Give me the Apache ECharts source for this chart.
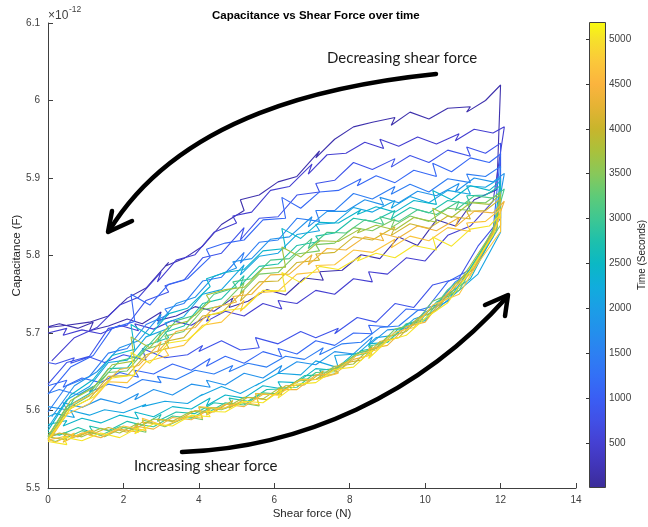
<!DOCTYPE html>
<html><head><meta charset="utf-8">
<script src="https://cdn.jsdelivr.net/npm/echarts@6/dist/echarts.min.js"></script>
<style>html,body{margin:0;padding:0;background:#fff}#c{width:648px;height:527px}</style>
</head><body><div id="c"></div>
<script>
// Shear force samples (N) for increasing / decreasing branches
const incA = [0,0.3,0.8,1.2,1.1,1.6,2.1,2.5,3.0,2.9,3.4,3.9,4.4,4.9,4.8,5.3,5.8,6.3,6.8,7.3,7.2,7.8,8.3,8.8,9.3,9.8,10.3,10.8,11.3,11.9];
const incB = [0,0.5,0.4,0.9,1.4,1.9,2.4,2.3,2.8,3.3,3.8,4.3,4.2,4.7,5.2,5.7,6.2,6.1,6.6,7.1,7.6,8.1,8.6,8.5,9.0,9.5,10.0,10.6,11.2,11.8];
const incC = [0,0.2,0.7,0.6,1.1,1.5,2.0,2.6,2.5,3.1,3.7,4.1,4.0,4.6,5.1,5.6,5.5,6.1,6.7,7.1,7.7,7.6,8.2,8.7,9.2,9.7,10.2,10.9,11.4,12.0];
const decA = [12.0,11.6,11.1,11.2,10.6,10.1,9.6,9.1,9.2,8.6,8.1,7.6,7.1,7.2,6.6,6.1,5.6,5.1,5.2,4.6,4.1,3.6,3.1,3.2,2.6,2.1,1.6,1.1,0.5,0.0];
const decB = [12.1,11.8,11.3,10.8,10.9,10.3,9.8,9.3,8.8,8.9,8.4,7.9,7.4,6.9,7.0,6.4,5.9,5.4,4.9,5.0,4.4,3.9,3.4,2.9,3.0,2.4,1.9,1.3,0.7,0.1];
const decC = [12.0,11.7,11.2,10.7,10.2,10.3,9.7,9.2,8.7,8.2,8.3,7.7,7.2,6.7,6.2,6.3,5.7,5.2,4.7,4.2,4.3,3.7,3.2,2.7,2.2,2.3,1.7,1.2,0.6,0.0];

// Mid time (s) of each loading cycle
const loopTimes = [162,486,811,1135,1460,1784,2108,2433,2757,3082,3406,3730,4055,4379,4703,5028];

// Capacitance (x1e-12 F): L = increasing force, U = decreasing force
const k0L = [5.708,5.712,5.706,5.714,5.703,5.709,5.718,5.712,5.727,5.716,5.722,5.734,5.728,5.745,5.733,5.741,5.756,5.749,5.771,5.768,5.779,5.781,5.801,5.796,5.824,5.813,5.846,5.838,5.872,5.885];
const k0U = [6.020,6.000,5.985,5.992,5.990,5.976,5.985,5.968,5.978,5.972,5.966,5.950,5.926,5.935,5.902,5.895,5.878,5.872,5.858,5.840,5.812,5.796,5.786,5.791,5.758,5.745,5.722,5.714,5.710,5.707];
const k1L = [5.700,5.706,5.697,5.704,5.699,5.710,5.703,5.712,5.705,5.716,5.710,5.724,5.715,5.728,5.722,5.738,5.731,5.742,5.738,5.755,5.750,5.770,5.766,5.779,5.776,5.797,5.793,5.826,5.838,5.870];
const k1U = [5.966,5.958,5.963,5.948,5.957,5.944,5.953,5.941,5.950,5.938,5.946,5.932,5.930,5.905,5.918,5.889,5.884,5.856,5.851,5.842,5.830,5.801,5.794,5.766,5.779,5.746,5.736,5.707,5.694,5.664];
const k2L = [5.662,5.660,5.668,5.661,5.669,5.662,5.672,5.665,5.680,5.668,5.672,5.684,5.676,5.690,5.678,5.681,5.694,5.686,5.702,5.694,5.706,5.699,5.720,5.714,5.738,5.733,5.762,5.771,5.812,5.848];
const k2U = [5.945,5.932,5.940,5.928,5.936,5.920,5.929,5.914,5.925,5.911,5.920,5.897,5.893,5.882,5.878,5.850,5.848,5.820,5.836,5.803,5.797,5.768,5.761,5.753,5.742,5.710,5.706,5.670,5.662,5.634];
const k3L = [5.632,5.639,5.630,5.642,5.636,5.649,5.643,5.652,5.647,5.660,5.652,5.667,5.657,5.670,5.661,5.676,5.669,5.680,5.673,5.690,5.684,5.700,5.699,5.710,5.708,5.731,5.729,5.766,5.782,5.832];
const k3U = [5.931,5.920,5.926,5.908,5.919,5.902,5.910,5.894,5.903,5.890,5.899,5.884,5.882,5.861,5.875,5.848,5.846,5.820,5.816,5.808,5.798,5.770,5.763,5.736,5.750,5.715,5.706,5.671,5.656,5.621];
const k4L = [5.622,5.627,5.620,5.631,5.624,5.634,5.629,5.640,5.636,5.644,5.640,5.652,5.647,5.658,5.650,5.661,5.656,5.670,5.666,5.681,5.672,5.686,5.688,5.707,5.709,5.729,5.736,5.766,5.783,5.832];
const k4U = [5.915,5.902,5.905,5.894,5.899,5.882,5.892,5.879,5.889,5.873,5.880,5.858,5.858,5.844,5.848,5.820,5.817,5.790,5.804,5.772,5.767,5.738,5.731,5.724,5.711,5.680,5.674,5.644,5.632,5.598];
const k5L = [5.605,5.601,5.610,5.604,5.615,5.609,5.622,5.614,5.627,5.620,5.634,5.630,5.639,5.633,5.648,5.642,5.658,5.648,5.663,5.659,5.676,5.673,5.695,5.684,5.704,5.706,5.727,5.741,5.783,5.824];
const k5U = [5.906,5.895,5.900,5.882,5.893,5.877,5.883,5.868,5.875,5.865,5.872,5.857,5.857,5.837,5.850,5.824,5.821,5.796,5.792,5.784,5.773,5.746,5.738,5.711,5.724,5.690,5.681,5.650,5.632,5.592];
const k6L = [5.592,5.596,5.591,5.600,5.594,5.601,5.597,5.608,5.605,5.612,5.609,5.621,5.618,5.631,5.622,5.635,5.632,5.648,5.646,5.664,5.655,5.671,5.673,5.694,5.697,5.718,5.726,5.755,5.776,5.830];
const k6U = [5.900,5.888,5.890,5.879,5.884,5.868,5.876,5.861,5.871,5.856,5.862,5.842,5.840,5.832,5.827,5.803,5.799,5.775,5.788,5.756,5.750,5.721,5.713,5.706,5.695,5.665,5.662,5.631,5.614,5.578];
const k7L = [5.582,5.587,5.580,5.590,5.584,5.594,5.589,5.598,5.592,5.605,5.602,5.616,5.606,5.620,5.616,5.632,5.628,5.637,5.636,5.654,5.652,5.673,5.678,5.686,5.688,5.711,5.716,5.750,5.770,5.826];
const k7U = [5.896,5.884,5.890,5.872,5.884,5.866,5.871,5.856,5.863,5.853,5.859,5.842,5.843,5.822,5.835,5.809,5.806,5.782,5.778,5.770,5.760,5.732,5.725,5.697,5.711,5.679,5.671,5.640,5.620,5.574];
const k8L = [5.572,5.568,5.578,5.571,5.580,5.574,5.586,5.581,5.595,5.586,5.598,5.596,5.610,5.607,5.616,5.612,5.627,5.628,5.645,5.646,5.652,5.655,5.677,5.682,5.706,5.712,5.740,5.752,5.792,5.836];
const k8U = [5.890,5.878,5.877,5.866,5.871,5.855,5.862,5.847,5.858,5.844,5.848,5.829,5.825,5.818,5.813,5.789,5.786,5.761,5.774,5.744,5.738,5.709,5.701,5.694,5.684,5.655,5.654,5.622,5.605,5.566];
const k9L = [5.566,5.572,5.563,5.574,5.568,5.579,5.575,5.583,5.579,5.593,5.590,5.604,5.596,5.610,5.607,5.623,5.621,5.629,5.630,5.649,5.650,5.670,5.676,5.683,5.688,5.712,5.718,5.756,5.780,5.834];
const k9U = [5.886,5.874,5.877,5.858,5.870,5.853,5.859,5.844,5.850,5.840,5.846,5.829,5.830,5.809,5.822,5.796,5.794,5.770,5.766,5.759,5.750,5.723,5.716,5.688,5.702,5.670,5.664,5.634,5.616,5.568];
const k10L = [5.563,5.560,5.570,5.564,5.573,5.566,5.578,5.572,5.588,5.579,5.592,5.588,5.604,5.601,5.610,5.606,5.622,5.621,5.641,5.640,5.649,5.652,5.674,5.680,5.705,5.711,5.741,5.755,5.797,5.839];
const k10U = [5.882,5.868,5.869,5.858,5.861,5.844,5.851,5.836,5.847,5.832,5.836,5.816,5.814,5.806,5.802,5.778,5.776,5.751,5.765,5.735,5.730,5.702,5.696,5.688,5.679,5.651,5.649,5.619,5.602,5.563];
const k11L = [5.566,5.562,5.571,5.566,5.577,5.571,5.584,5.576,5.589,5.586,5.599,5.597,5.604,5.603,5.617,5.615,5.631,5.622,5.638,5.640,5.657,5.660,5.683,5.672,5.695,5.702,5.725,5.745,5.787,5.832];
const k11U = [5.879,5.866,5.868,5.849,5.861,5.843,5.849,5.833,5.839,5.829,5.835,5.818,5.819,5.798,5.811,5.785,5.783,5.759,5.756,5.749,5.741,5.715,5.709,5.681,5.695,5.664,5.659,5.629,5.613,5.567];
const k12L = [5.565,5.571,5.566,5.575,5.568,5.578,5.572,5.585,5.582,5.589,5.586,5.600,5.598,5.613,5.603,5.617,5.614,5.632,5.633,5.651,5.641,5.661,5.665,5.689,5.694,5.719,5.729,5.763,5.784,5.836];
const k12U = [5.873,5.858,5.857,5.847,5.851,5.835,5.841,5.826,5.837,5.820,5.824,5.804,5.802,5.794,5.791,5.767,5.766,5.741,5.755,5.726,5.722,5.694,5.689,5.681,5.672,5.645,5.644,5.615,5.600,5.563];
const k13L = [5.562,5.567,5.559,5.571,5.565,5.576,5.572,5.580,5.576,5.591,5.588,5.602,5.594,5.608,5.605,5.621,5.620,5.627,5.627,5.646,5.647,5.666,5.672,5.679,5.684,5.708,5.714,5.752,5.776,5.830];
const k13U = [5.870,5.855,5.857,5.837,5.849,5.832,5.838,5.823,5.829,5.819,5.824,5.807,5.809,5.788,5.801,5.776,5.775,5.750,5.747,5.740,5.733,5.707,5.702,5.675,5.689,5.658,5.653,5.625,5.610,5.566];
const k14L = [5.563,5.559,5.571,5.565,5.574,5.568,5.580,5.574,5.590,5.580,5.593,5.590,5.605,5.602,5.611,5.607,5.622,5.620,5.640,5.640,5.648,5.650,5.672,5.678,5.701,5.707,5.736,5.750,5.790,5.831];
const k14U = [5.860,5.844,5.842,5.831,5.836,5.819,5.825,5.810,5.821,5.804,5.807,5.788,5.787,5.779,5.776,5.754,5.752,5.728,5.742,5.714,5.710,5.684,5.679,5.671,5.663,5.636,5.637,5.609,5.595,5.561];
const k15L = [5.560,5.556,5.566,5.561,5.571,5.565,5.578,5.570,5.583,5.580,5.594,5.592,5.599,5.598,5.612,5.610,5.627,5.616,5.634,5.636,5.653,5.656,5.678,5.667,5.690,5.697,5.719,5.739,5.781,5.826];
const k15U = [5.853,5.838,5.834,5.812,5.824,5.807,5.813,5.797,5.803,5.793,5.799,5.782,5.786,5.765,5.778,5.754,5.755,5.732,5.729,5.722,5.716,5.691,5.687,5.661,5.675,5.646,5.642,5.617,5.603,5.562];

const loops = [[k0L,k0U],[k1L,k1U],[k2L,k2U],[k3L,k3U],[k4L,k4U],[k5L,k5U],[k6L,k6U],[k7L,k7U],
               [k8L,k8U],[k9L,k9U],[k10L,k10U],[k11L,k11U],[k12L,k12U],[k13L,k13U],[k14L,k14U],[k15L,k15U]];
const incSets = [incA, incB, incC, incB];
const decSets = [decA, decB, decA, decC];

// Colour map (parula-like), keyed by time in seconds
const T_MAX = 5190;
const cmap = [[0,'#3b2c98'],[250,'#4135b8'],[500,'#4540d2'],[750,'#4150e6'],[1000,'#3a5ef4'],[1250,'#3370f6'],
  [1500,'#2d80f2'],[1750,'#2390ec'],[2000,'#1b9ee6'],[2250,'#10addc'],[2500,'#0bb8c4'],[2750,'#1ec0ac'],
  [3000,'#3ec792'],[3250,'#5ecb78'],[3500,'#88c85a'],[3750,'#a9c13c'],[4000,'#c8b52c'],[4250,'#e5b334'],
  [4500,'#fbb43e'],[4750,'#fbc83a'],[5000,'#f6e12a'],[5190,'#f9fb0e']];
function hex2rgb(h){return [1,3,5].map(i=>parseInt(h.substr(i,2),16));}
function colorAt(t){
  for(let i=0;i<cmap.length-1;i++){
    const [t0,c0]=cmap[i],[t1,c1]=cmap[i+1];
    if(t<=t1){const f=(t-t0)/(t1-t0),a=hex2rgb(c0),b=hex2rgb(c1);
      return 'rgb('+a.map((v,j)=>Math.round(v+(b[j]-v)*f)).join(',')+')';}
  }
  return cmap[cmap.length-1][1];
}

loops.forEach((lu,k)=>{ if(lu[0].length!==30||lu[1].length!==30) throw new Error('bad length loop '+k); });

const FONT = 'Liberation Sans';
const series = loops.map((lu,k)=>{
  const xi = incSets[k%4], xd = decSets[k%4];
  const data = xi.map((x,i)=>[x,lu[0][i]]).concat(xd.map((x,i)=>[x,lu[1][i]]));
  const c = colorAt(loopTimes[k]);
  return {type:'line', xAxisIndex:0, yAxisIndex:0, data, symbol:'none', showSymbol:false, silent:true,
    lineStyle:{width:1.1, color:c}, itemStyle:{color:c}, animation:false};
});

const chart = echarts.init(document.getElementById('c'), null, {renderer:'canvas'});
chart.setOption({
  animation:false,
  backgroundColor:'#fff',
  textStyle:{fontFamily:FONT},
  title:{text:'Capacitance vs Shear Force over time', left:207, top:5,
    textStyle:{fontFamily:FONT, fontSize:11.5, fontWeight:'bold', color:'#000'}},
  grid:[{left:48, top:23, width:528, height:465, containLabel:false, outerBoundsMode:'none'},
        {left:589, top:22, width:16, height:466, containLabel:false, outerBoundsMode:'none'}],
  xAxis:[
    {gridIndex:0, type:'value', min:0, max:14, interval:2,
     name:'Shear force (N)', nameLocation:'middle', nameGap:20, nameMoveOverlap:false,
     nameTextStyle:{fontFamily:FONT, fontSize:11.5, color:'#262626'},
     axisLine:{lineStyle:{color:'#404040', width:1}},
     axisTick:{inside:true, length:5, lineStyle:{color:'#404040'}},
     axisLabel:{fontFamily:FONT, fontSize:10, color:'#404040', margin:7},
     splitLine:{show:false}},
    {gridIndex:1, type:'value', min:0, max:1, show:false}
  ],
  yAxis:[
    {gridIndex:0, type:'value', min:5.5, max:6.1, interval:0.1,
     name:'Capacitance (F)', nameLocation:'middle', nameGap:25, nameMoveOverlap:false,
     nameTextStyle:{fontFamily:FONT, fontSize:11.5, color:'#262626'},
     axisLine:{show:true, lineStyle:{color:'#404040', width:1}},
     axisTick:{show:true, inside:true, length:5, lineStyle:{color:'#404040'}},
     axisLabel:{fontFamily:FONT, fontSize:10, color:'#404040', margin:8},
     splitLine:{show:false}},
    {gridIndex:1, type:'value', min:0, max:T_MAX, interval:500, position:'right', z:10,
     name:'Time (Seconds)', nameLocation:'middle', nameGap:32, nameRotate:90, nameMoveOverlap:false,
     nameTextStyle:{fontFamily:FONT, fontSize:10, color:'#262626'},
     axisLine:{show:false},
     axisTick:{show:true, inside:true, length:3, lineStyle:{color:'#333'}},
     axisLabel:{fontFamily:FONT, fontSize:10, color:'#404040', margin:4, showMinLabel:false, showMaxLabel:false,
       formatter:v=>String(v)},
     splitLine:{show:false}}
  ],
  graphic:[
    {type:'rect', z:1, shape:{x:589.5, y:22.5, width:16, height:465},
     style:{stroke:'#404040', lineWidth:1,
       fill:{type:'linear', x:0, y:1, x2:0, y2:0, colorStops:cmap.map(([t,c])=>({offset:t/T_MAX, color:c}))}}},
    {type:'text', x:48, y:16, style:{text:'\u00d710', font:'12px "Liberation Sans"', fill:'#404040', verticalAlign:'middle'}},
    {type:'text', x:69, y:10, style:{text:'-12', font:'8.5px "Liberation Sans"', fill:'#404040', verticalAlign:'middle'}},
    {type:'bezierCurve', shape:{x1:436,y1:74,cpx1:330,cpy1:85,cpx2:180,cpy2:115,x2:109,y2:231},
     style:{stroke:'#000', lineWidth:4.5, fill:null, lineCap:'round'}},
    {type:'polyline', shape:{points:[[112,211],[108,232],[132,221]]},
     style:{stroke:'#000', lineWidth:4.5, fill:null, lineCap:'round', lineJoin:'round'}},
    {type:'bezierCurve', shape:{x1:182,y1:452,cpx1:300,cpy1:448,cpx2:420,cpy2:395,x2:507,y2:297},
     style:{stroke:'#000', lineWidth:4.5, fill:null, lineCap:'round'}},
    {type:'polyline', shape:{points:[[485,305],[508,295],[505,316]]},
     style:{stroke:'#000', lineWidth:4.5, fill:null, lineCap:'round', lineJoin:'round'}},
    {type:'text', x:327, y:58, style:{text:'Decreasing shear force', font:'15px Lato', fill:'#1a1a1a', verticalAlign:'middle'}},
    {type:'text', x:134, y:466, style:{text:'Increasing shear force', font:'15px Lato', fill:'#1a1a1a', verticalAlign:'middle'}}
  ],
  series
});
</script></body></html>
